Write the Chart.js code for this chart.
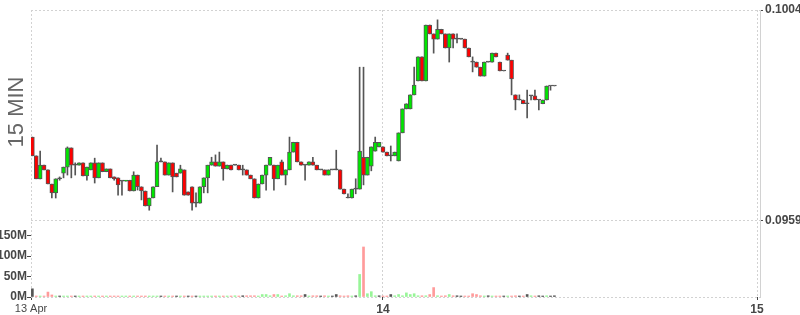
<!DOCTYPE html>
<html>
<head>
<meta charset="utf-8">
<title>15 MIN</title>
<script src="https://cdn.jsdelivr.net/npm/chart.js@4.4.1/dist/chart.umd.min.js"></script>
<style>
    html, body { margin: 0; padding: 0; background: #fff; }
    #wrap { width: 800px; height: 315px; }
</style>
</head>
<body>
<div id="wrap"><canvas id="chart" width="800" height="315"></canvas></div>
<script>
// 15 minute candles, slot = number of 15 min steps since 13 Apr 00:00
const firstSlot = 6;

const openP = [
    0.09769, 0.09729, 0.09680, 0.09709, 0.09699, 0.09669, 0.09650, 0.09680, 0.09692, 0.09705,
    0.09746, 0.09709, 0.09709, 0.09714, 0.09686, 0.09699, 0.09714, 0.09682, 0.09714, 0.09695,
    0.09701, 0.09684, 0.09682, 0.09675, 0.09675, 0.09677, 0.09654, 0.09688, 0.09663, 0.09654,
    0.09622, 0.09639, 0.09663, 0.09716, 0.09716, 0.09688, 0.09714, 0.09692, 0.09692, 0.09699,
    0.09652, 0.09663, 0.09628, 0.09628, 0.09663, 0.09682, 0.09709, 0.09716, 0.09707, 0.09716,
    0.09701, 0.09709, 0.09709, 0.09709, 0.09699, 0.09699, 0.09688, 0.09680, 0.09639, 0.09669,
    0.09688, 0.09709, 0.09709, 0.09680, 0.09716, 0.09688, 0.09699, 0.09737, 0.09758, 0.09716,
    0.09709, 0.09709, 0.09716, 0.09709, 0.09699, 0.09699, 0.09688, 0.09699, 0.09699, 0.09699,
    0.09658, 0.09639, 0.09639, 0.09658, 0.09658, 0.09726, 0.09688, 0.09707, 0.09739, 0.09748,
    0.09748, 0.09737, 0.09729, 0.09729, 0.09718, 0.09778, 0.09829, 0.09829, 0.09859, 0.09889,
    0.09940, 0.09889, 0.10008, 0.09989, 0.09978, 0.09999, 0.09989, 0.09959, 0.09989, 0.09978,
    0.09978, 0.09978, 0.09959, 0.09929, 0.09929, 0.09918, 0.09899, 0.09929, 0.09929, 0.09948,
    0.09929, 0.09910, 0.09944, 0.09933, 0.09859, 0.09848, 0.09848, 0.09840, 0.09857, 0.09857,
    0.09848, 0.09840, 0.09848, 0.09878, 0.09878
];
const highP = [
    0.09769, 0.09729, 0.09739, 0.09709, 0.09699, 0.09669, 0.09680, 0.09684, 0.09705, 0.09748,
    0.09746, 0.09714, 0.09714, 0.09714, 0.09705, 0.09714, 0.09724, 0.09714, 0.09714, 0.09701,
    0.09701, 0.09684, 0.09682, 0.09675, 0.09677, 0.09677, 0.09695, 0.09688, 0.09663, 0.09654,
    0.09639, 0.09663, 0.09752, 0.09724, 0.09716, 0.09714, 0.09714, 0.09692, 0.09709, 0.09699,
    0.09652, 0.09663, 0.09650, 0.09663, 0.09682, 0.09709, 0.09726, 0.09731, 0.09737, 0.09716,
    0.09709, 0.09709, 0.09709, 0.09709, 0.09709, 0.09699, 0.09688, 0.09680, 0.09669, 0.09688,
    0.09709, 0.09726, 0.09709, 0.09709, 0.09720, 0.09699, 0.09769, 0.09758, 0.09758, 0.09716,
    0.09709, 0.09716, 0.09726, 0.09709, 0.09699, 0.09699, 0.09699, 0.09699, 0.09741, 0.09699,
    0.09658, 0.09648, 0.09658, 0.09680, 0.09918, 0.09918, 0.09726, 0.09748, 0.09769, 0.09758,
    0.09748, 0.09737, 0.09750, 0.09737, 0.09778, 0.09829, 0.09840, 0.09859, 0.09918, 0.09940,
    0.09940, 0.10008, 0.10008, 0.09989, 0.10019, 0.09999, 0.09989, 0.09989, 0.09989, 0.09989,
    0.09978, 0.09978, 0.09959, 0.09940, 0.09929, 0.09918, 0.09929, 0.09929, 0.09948, 0.09948,
    0.09929, 0.09910, 0.09948, 0.09933, 0.09859, 0.09859, 0.09848, 0.09869, 0.09857, 0.09869,
    0.09848, 0.09848, 0.09878, 0.09878, 0.09878
];
const lowP = [
    0.09729, 0.09680, 0.09680, 0.09699, 0.09669, 0.09639, 0.09639, 0.09677, 0.09682, 0.09688,
    0.09682, 0.09688, 0.09709, 0.09686, 0.09677, 0.09699, 0.09671, 0.09682, 0.09695, 0.09695,
    0.09682, 0.09677, 0.09645, 0.09645, 0.09675, 0.09654, 0.09654, 0.09656, 0.09635, 0.09622,
    0.09613, 0.09639, 0.09663, 0.09716, 0.09688, 0.09688, 0.09652, 0.09684, 0.09692, 0.09645,
    0.09645, 0.09613, 0.09620, 0.09628, 0.09650, 0.09650, 0.09709, 0.09707, 0.09707, 0.09677,
    0.09701, 0.09699, 0.09709, 0.09699, 0.09688, 0.09688, 0.09680, 0.09639, 0.09639, 0.09669,
    0.09656, 0.09709, 0.09656, 0.09680, 0.09688, 0.09667, 0.09699, 0.09737, 0.09716, 0.09709,
    0.09677, 0.09709, 0.09709, 0.09699, 0.09699, 0.09688, 0.09688, 0.09699, 0.09699, 0.09658,
    0.09648, 0.09639, 0.09639, 0.09648, 0.09658, 0.09667, 0.09688, 0.09697, 0.09739, 0.09748,
    0.09737, 0.09729, 0.09718, 0.09729, 0.09718, 0.09778, 0.09829, 0.09829, 0.09859, 0.09889,
    0.09889, 0.09889, 0.09989, 0.09948, 0.09978, 0.09989, 0.09959, 0.09929, 0.09959, 0.09970,
    0.09978, 0.09959, 0.09940, 0.09908, 0.09918, 0.09899, 0.09899, 0.09929, 0.09929, 0.09940,
    0.09910, 0.09910, 0.09933, 0.09859, 0.09827, 0.09848, 0.09840, 0.09810, 0.09848, 0.09848,
    0.09827, 0.09840, 0.09848, 0.09869, 0.09878
];
const closeP = [
    0.09729, 0.09680, 0.09709, 0.09699, 0.09669, 0.09650, 0.09680, 0.09680, 0.09705, 0.09746,
    0.09709, 0.09709, 0.09714, 0.09686, 0.09705, 0.09714, 0.09682, 0.09714, 0.09695, 0.09701,
    0.09682, 0.09680, 0.09667, 0.09675, 0.09677, 0.09654, 0.09688, 0.09663, 0.09654, 0.09622,
    0.09639, 0.09663, 0.09716, 0.09716, 0.09688, 0.09714, 0.09684, 0.09684, 0.09701, 0.09645,
    0.09645, 0.09628, 0.09628, 0.09663, 0.09682, 0.09709, 0.09716, 0.09707, 0.09716, 0.09701,
    0.09709, 0.09699, 0.09709, 0.09699, 0.09699, 0.09688, 0.09680, 0.09639, 0.09669, 0.09688,
    0.09709, 0.09726, 0.09680, 0.09709, 0.09688, 0.09699, 0.09737, 0.09758, 0.09716, 0.09709,
    0.09709, 0.09716, 0.09709, 0.09699, 0.09699, 0.09688, 0.09699, 0.09699, 0.09699, 0.09658,
    0.09648, 0.09639, 0.09658, 0.09658, 0.09739, 0.09688, 0.09726, 0.09748, 0.09758, 0.09758,
    0.09737, 0.09729, 0.09729, 0.09737, 0.09778, 0.09829, 0.09840, 0.09859, 0.09880, 0.09940,
    0.09889, 0.10008, 0.09989, 0.09978, 0.09999, 0.09989, 0.09959, 0.09989, 0.09978, 0.09978,
    0.09978, 0.09959, 0.09940, 0.09929, 0.09918, 0.09899, 0.09929, 0.09929, 0.09948, 0.09940,
    0.09910, 0.09910, 0.09933, 0.09893, 0.09848, 0.09848, 0.09840, 0.09840, 0.09857, 0.09848,
    0.09848, 0.09848, 0.09878, 0.09878, 0.09878
];
// volume in millions
const volumeM = [
    20, 2, 2, 1, 12, 5, 2, 2, 1, 1,
    2, 1, 1, 1, 1, 1, 1, 1, 1, 1,
    1, 1, 1, 1, 1, 1, 1, 1, 1, 1,
    1, 1, 1, 0.5, 1, 0.5, 1, 1, 0.5, 1,
    0.5, 0.5, 0.5, 0.5, 0.5, 1, 1, 1, 1, 1,
    1, 1, 3, 1, 3, 3, 3, 3, 1, 6,
    6, 3, 6, 6, 1, 3, 8, 3, 3, 3,
    6, 1, 3, 3, 1, 3, 1, 1, 6, 3,
    1, 3, 1, 3, 55, 122, 8, 13, 3, 3,
    1, 1, 6, 3, 6, 3, 10, 6, 8, 3,
    3, 3, 6, 23, 3, 1, 3, 6, 3, 3,
    1, 1, 1, 8, 6, 3, 1, 3, 1, 1,
    1, 1, 1, 1, 3, 1, 1, 6, 3, 1,
    3, 1, 3, 1, 3
];

const viewStart = 5.65;               // left edge of the plot, in slots
const viewEnd = 192.77;               // right edge, a little past 15 Apr
const dayTicks = [96, 192];           // 14 Apr, 15 Apr
const dayLabels = ['13 Apr', '14', '15'];
const priceTicks = [0.0959, 0.1004];
const volumeTicks = [0, 50, 100, 150];
const volumeMax = 700;
const pricePanelShare = 211 / 287;    // price panel takes the upper part of the plot

const UP = '#00e600';
const DOWN = '#ff0000';
const EDGE = '#555555';
const VOL_UP = '#98f598';
const VOL_DOWN = '#ff9b9b';
const GRID = '#d2d2d2';
const INK = '#474747';
const FONT = '"Liberation Sans", Arial, sans-serif';

const priceMax = priceTicks[1];
const priceMin = priceMax - (priceMax - priceTicks[0]) / pricePanelShare;

const slots = closeP.map((c, i) => firstSlot + i);
const wicks = slots.map((x, i) => ({ x, y: [lowP[i], highP[i]] }));
const bodies = slots.map((x, i) => ({ x, y: [openP[i], closeP[i]] }));
const volumes = slots.map((x, i) => ({ x, y: volumeM[i] }));

const bodyColors = closeP.map((c, i) => c > openP[i] ? UP : c < openP[i] ? DOWN : EDGE);
const volumeColors = closeP.map((c, i) => {
    const prev = i > 0 ? closeP[i - 1] : c;
    return c > prev ? VOL_UP : c < prev ? VOL_DOWN : EDGE;
});

const sideLabel = {
    id: 'sideLabel',
    afterDraw(chart) {
        const ctx = chart.ctx;
        ctx.save();
        ctx.translate(23, 112);
        ctx.rotate(-Math.PI / 2);
        ctx.font = '22px ' + FONT;
        ctx.fillStyle = '#666666';
        ctx.textAlign = 'center';
        ctx.fillText('15 MIN', 0, 0);
        ctx.restore();
    }
};

const tickFont = { family: FONT, size: 12, weight: 'bold' };

new Chart(document.getElementById('chart'), {
    type: 'bar',
    data: {
        datasets: [
            {
                label: 'body', data: bodies, yAxisID: 'y',
                backgroundColor: bodyColors, borderColor: EDGE, borderWidth: 1, borderSkipped: false,
                barThickness: 4, minBarLength: 1, grouped: false, order: 0
            },
            {
                label: 'wick', data: wicks, yAxisID: 'y',
                backgroundColor: EDGE, borderWidth: 0,
                barThickness: 1, grouped: false, order: 1
            },
            {
                label: 'volume', data: volumes, yAxisID: 'yv',
                backgroundColor: volumeColors, borderWidth: 0,
                barThickness: 2, minBarLength: 1, grouped: false, order: 2
            }
        ]
    },
    options: {
        responsive: false,
        animation: false,
        layout: { padding: { top: 10 } },
        plugins: {
            legend: { display: false },
            tooltip: { enabled: false }
        },
        scales: {
            x: {
                type: 'linear',
                min: viewStart,
                max: viewEnd,
                offset: false,
                grid: { color: GRID, offset: false, tickLength: 3, tickColor: INK },
                border: { display: false, dash: [2, 2] },
                ticks: {
                    color: INK,
                    padding: 2,
                    maxRotation: 0,
                    autoSkip: false,
                    font: ctx => ctx.index === 0 ? { family: FONT, size: 11, weight: 'normal' } : tickFont,
                    callback: (v, i) => dayLabels[i]
                },
                afterBuildTicks: s => { s.ticks = [viewStart, ...dayTicks].map(value => ({ value })); },
                afterFit: s => { s.height = 18; s.paddingLeft = 0; s.paddingRight = 0; }
            },
            y: {
                type: 'linear',
                position: 'right',
                min: priceMin,
                max: priceMax,
                beginAtZero: false,
                grid: { color: GRID, tickLength: 3, tickColor: INK },
                border: { display: true, color: GRID, dash: [2, 2] },
                ticks: { color: INK, padding: 2, font: tickFont, callback: v => v.toFixed(4) },
                afterBuildTicks: s => { s.ticks = priceTicks.map(value => ({ value })); },
                afterFit: s => { s.width = 40; s.paddingTop = 0; s.paddingBottom = 0; }
            },
            yv: {
                type: 'linear',
                position: 'left',
                min: 0,
                max: volumeMax,
                grid: {
                    color: ctx => ctx.tick && ctx.tick.value === 0 ? GRID : 'rgba(0,0,0,0)',
                    tickLength: 4,
                    tickColor: INK
                },
                border: { display: false, dash: [2, 2] },
                ticks: { color: INK, padding: 0, font: tickFont, callback: v => v + 'M' },
                afterBuildTicks: s => { s.ticks = volumeTicks.map(value => ({ value })); },
                afterFit: s => { s.width = 31; s.paddingTop = 0; s.paddingBottom = 0; }
            }
        }
    },
    plugins: [sideLabel]
});
</script>
</body>
</html>
